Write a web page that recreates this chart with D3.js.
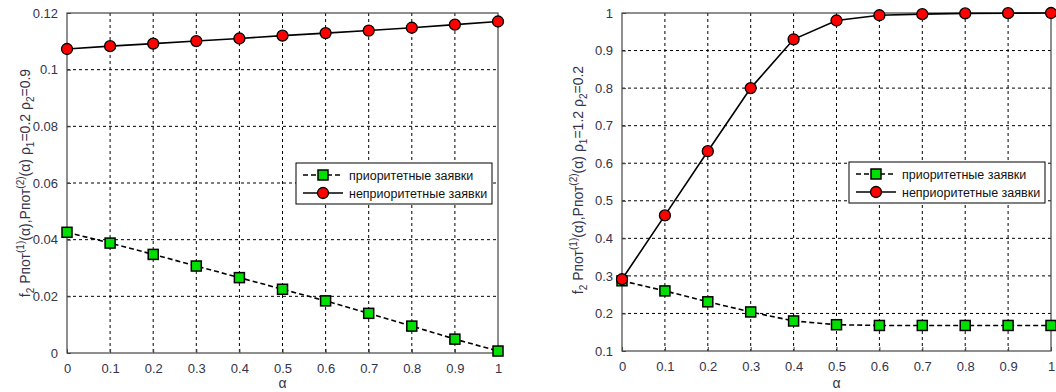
<!DOCTYPE html>
<html>
<head>
<meta charset="utf-8">
<script src="https://cdn.jsdelivr.net/npm/d3@7"></script>
<style>
  body { margin: 0; background: #fff; }
  svg { display: block; font-family: Arial, "Liberation Sans", sans-serif; }
  .tick text { fill: #33334a; font-size: 13px; }
</style>
</head>
<body>
<div id="chart"></div>
<script>
const alpha = [0, 0.1, 0.2, 0.3, 0.4, 0.5, 0.6, 0.7, 0.8, 0.9, 1];

// left panel, rho1=0.2 rho2=0.9
const leftPriority = [0.0426, 0.0388, 0.0348, 0.0307, 0.0266, 0.0225, 0.0184, 0.014, 0.0095, 0.0049, 0.0007];
const leftNonPriority = [0.1073, 0.1083, 0.1092, 0.1101, 0.111, 0.112, 0.1129, 0.1138, 0.1148, 0.1159, 0.117];
const leftYTicks = [0, 0.02, 0.04, 0.06, 0.08, 0.1, 0.12];

// right panel, rho1=1.2 rho2=0.2
const rightPriority = [0.287, 0.26, 0.231, 0.204, 0.18, 0.17, 0.168, 0.168, 0.168, 0.168, 0.168];
const rightNonPriority = [0.291, 0.461, 0.632, 0.8, 0.93, 0.98, 0.994, 0.997, 0.999, 0.9995, 1.0];
const rightYTicks = [0.1, 0.2, 0.3, 0.4, 0.5, 0.6, 0.7, 0.8, 0.9, 1];

const xTicks = alpha;
const legendLabels = ["приоритетные заявки", "неприоритетные заявки"];

const svg = d3.select("#chart").append("svg")
  .attr("width", 1056)
  .attr("height", 392);

function drawPanel(opts) {
  const x = d3.scaleLinear().domain([0, 1]).range([opts.left, opts.right]);
  const y = d3.scaleLinear().domain(opts.yDomain).range([opts.bottom, opts.top]);
  const w = opts.right - opts.left, h = opts.bottom - opts.top;
  const g = svg.append("g");

  // grid
  g.append("g")
    .selectAll("line")
    .data(xTicks.slice(1, -1))
    .enter().append("line")
    .attr("x1", d => x(d)).attr("x2", d => x(d))
    .attr("y1", opts.top).attr("y2", opts.bottom)
    .attr("stroke", "#000").attr("stroke-width", 1)
    .attr("stroke-dasharray", "3,3");
  g.append("g")
    .selectAll("line")
    .data(opts.yTicks.slice(1, -1))
    .enter().append("line")
    .attr("x1", opts.left).attr("x2", opts.right)
    .attr("y1", d => y(d)).attr("y2", d => y(d))
    .attr("stroke", "#000").attr("stroke-width", 1)
    .attr("stroke-dasharray", "3,3");

  // box
  g.append("rect")
    .attr("x", opts.left).attr("y", opts.top)
    .attr("width", w).attr("height", h)
    .attr("fill", "none").attr("stroke", "#444").attr("stroke-width", 1.2);

  // axes, ticks pointing inward
  g.append("g")
    .attr("transform", "translate(0," + opts.bottom + ")")
    .call(d3.axisBottom(x).tickValues(xTicks).tickFormat(d3.format("")).tickSizeInner(-4).tickSizeOuter(0).tickPadding(11))
    .call(a => a.select(".domain").remove())
    .call(a => a.selectAll("line").attr("stroke", "#444"));
  g.append("g")
    .attr("transform", "translate(" + opts.left + ",0)")
    .call(d3.axisLeft(y).tickValues(opts.yTicks).tickFormat(d3.format("")).tickSizeInner(-4).tickSizeOuter(0).tickPadding(9))
    .call(a => a.select(".domain").remove())
    .call(a => a.selectAll("line").attr("stroke", "#444"));

  const line = d3.line().x((d, i) => x(alpha[i])).y(d => y(d));

  // non-priority: solid line, red circles
  g.append("path").datum(opts.nonPriority)
    .attr("d", line).attr("fill", "none")
    .attr("stroke", "#000").attr("stroke-width", 1.6);
  // priority: dashed line, green squares
  g.append("path").datum(opts.priority)
    .attr("d", line).attr("fill", "none")
    .attr("stroke", "#000").attr("stroke-width", 1.6)
    .attr("stroke-dasharray", "5,3");

  g.append("g").selectAll("rect")
    .data(opts.priority)
    .enter().append("rect")
    .attr("x", (d, i) => x(alpha[i]) - 5)
    .attr("y", d => y(d) - 5)
    .attr("width", 10).attr("height", 10)
    .attr("fill", "#00e000").attr("stroke", "#000").attr("stroke-width", 1.5);
  g.append("g").selectAll("circle")
    .data(opts.nonPriority)
    .enter().append("circle")
    .attr("cx", (d, i) => x(alpha[i]))
    .attr("cy", d => y(d))
    .attr("r", 5.5)
    .attr("fill", "#ff0000").attr("stroke", "#000").attr("stroke-width", 1.3);

  // x label
  g.append("text")
    .attr("x", x(0.5)).attr("y", 388)
    .attr("text-anchor", "middle")
    .attr("fill", "#33334a").attr("font-size", 14)
    .text("α");

  // y label
  const yl = g.append("text")
    .attr("transform", "translate(" + opts.labelX + "," + opts.labelY + ") rotate(-90)")
    .attr("text-anchor", "middle")
    .attr("fill", "#33334a").attr("font-size", 14);
  yl.append("tspan").text("f");
  yl.append("tspan").attr("dy", 4).attr("font-size", 10).text("2");
  yl.append("tspan").attr("dy", -4).text(" Pпот");
  yl.append("tspan").attr("dy", -6).attr("font-size", 10).text("(1)");
  yl.append("tspan").attr("dy", 6).text("(α),Pпот");
  yl.append("tspan").attr("dy", -6).attr("font-size", 10).text("(2)");
  yl.append("tspan").attr("dy", 6).text("(α) ρ");
  yl.append("tspan").attr("dy", 4).attr("font-size", 10).text("1");
  yl.append("tspan").attr("dy", -4).text("=" + opts.rho1 + " ρ");
  yl.append("tspan").attr("dy", 4).attr("font-size", 10).text("2");
  yl.append("tspan").attr("dy", -4).text("=" + opts.rho2);

  // legend
  const lg = g.append("g").attr("transform", "translate(" + opts.legendX + "," + opts.legendY + ")");
  lg.append("rect")
    .attr("width", 196).attr("height", 41)
    .attr("fill", "#fff").attr("stroke", "#000").attr("stroke-width", 1);
  const rows = [
    { y: 12, dash: "5,3", kind: "square" },
    { y: 30, dash: null, kind: "circle" }
  ];
  rows.forEach((r, i) => {
    lg.append("line")
      .attr("x1", 7).attr("x2", 47).attr("y1", r.y).attr("y2", r.y)
      .attr("stroke", "#000").attr("stroke-width", 1.6)
      .attr("stroke-dasharray", r.dash);
    if (r.kind === "square") {
      lg.append("rect").attr("x", 22).attr("y", r.y - 5).attr("width", 10).attr("height", 10)
        .attr("fill", "#00e000").attr("stroke", "#000").attr("stroke-width", 1.5);
    } else {
      lg.append("circle").attr("cx", 27).attr("cy", r.y).attr("r", 5.5)
        .attr("fill", "#ff0000").attr("stroke", "#000").attr("stroke-width", 1.3);
    }
    lg.append("text")
      .attr("x", 53).attr("y", r.y + 4.5)
      .attr("fill", "#111").attr("font-size", 12.5)
      .text(legendLabels[i]);
  });
}

drawPanel({
  left: 67, right: 498, top: 13, bottom: 353,
  yDomain: [0, 0.12], yTicks: leftYTicks,
  priority: leftPriority, nonPriority: leftNonPriority,
  rho1: "0.2", rho2: "0.9",
  labelX: 30, labelY: 183,
  legendX: 296, legendY: 163
});

drawPanel({
  left: 622, right: 1051, top: 13, bottom: 351,
  yDomain: [0.1, 1], yTicks: rightYTicks,
  priority: rightPriority, nonPriority: rightNonPriority,
  rho1: "1.2", rho2: "0.2",
  labelX: 583, labelY: 180,
  legendX: 849, legendY: 162
});
</script>
</body>
</html>
